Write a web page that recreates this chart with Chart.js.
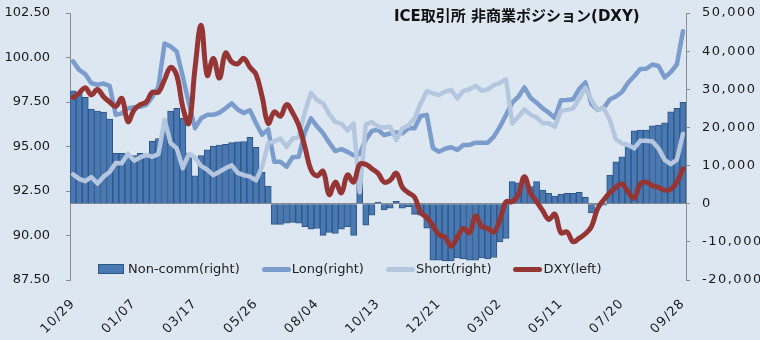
<!DOCTYPE html>
<html>
<head>
<meta charset="utf-8">
<script src="https://cdn.jsdelivr.net/npm/chart.js@4.4.0/dist/chart.umd.min.js"></script>
<style>
  html, body { margin: 0; padding: 0; background: #dde7f2; }
  #wrap { position: relative; width: 760px; height: 340px; }
  #title {
    position: absolute; left: 394px; top: 4px;
    font: bold 15px "DejaVu Sans", "Noto Sans CJK JP", sans-serif; color: #111;
  }
  #legend {
    position: absolute; left: 98px; top: 261px; display: flex; gap: 22px;
    font: 13px "DejaVu Sans", sans-serif; color: #222; line-height: 16px;
  }
  .item { display: flex; align-items: center; }
  .box { width: 24px; height: 8px; border: 1px solid #2e5683; margin-right: 4px; }
  .ln { width: 29px; height: 5px; border-radius: 3px; margin-right: 1px; }
</style>
</head>
<body>
<div id="wrap">
  <canvas id="cotChart" width="760" height="340"></canvas>
  <div id="title">ICE取引所 非商業ポジション(DXY)</div>
  <div id="legend"></div>
</div>
<script>
// weekly COT dates, 10/29/2019 .. 09/28/2021
const weeks = [
  "10/29","11/05","11/12","11/19","11/26","12/03","12/10","12/17","12/24","12/31",
  "01/07","01/14","01/21","01/28","02/04","02/11","02/18","02/25","03/03","03/10",
  "03/17","03/24","03/31","04/07","04/14","04/21","04/28","05/05","05/12","05/19",
  "05/26","06/02","06/09","06/16","06/23","06/30","07/07","07/14","07/21","07/28",
  "08/04","08/11","08/18","08/25","09/01","09/08","09/15","09/22","09/29","10/06",
  "10/13","10/20","10/27","11/03","11/10","11/17","11/24","12/01","12/08","12/15",
  "12/21","12/29","01/05","01/12","01/19","01/26","02/02","02/09","02/16","02/23",
  "03/02","03/09","03/16","03/23","03/30","04/06","04/13","04/20","04/27","05/04",
  "05/11","05/18","05/25","06/01","06/08","06/15","06/22","06/29","07/06","07/13",
  "07/20","07/27","08/03","08/10","08/17","08/24","08/31","09/07","09/14","09/21",
  "09/28"
];

const nonComm = [
  29600, 28900, 27900, 24800, 24300, 24000, 22200, 13200, 13200, 12800,
  12600, 13200, 12900, 16400, 17100, 19500, 24300, 25000, 22400, 13200,
  7300, 12600, 14100, 15100, 15400, 15600, 16000, 16200, 16300, 17400,
  14800, 8200, 4600, -5400, -5400, -5100, -4900, -5100, -6000, -6700,
  -6500, -8300, -7500, -7800, -6700, -6000, -8300, 10000, -5600, -3000,
  400, -1600, -1200, 600, -1200, -800, -2800, -3000, -6400, -14800,
  -14800, -15000, -15000, -14200, -14500, -14800, -14800, -14200, -14500, -14100,
  -10000, -9100, 5800, 5500, 5800, 4500, 5800, 3600, 2700, 2000,
  2500, 2700, 2700, 3000, 1700, -2400, -300, -400, 7500, 11000,
  12300, 15400, 19100, 19300, 19300, 20400, 20600, 21200, 24100, 25000,
  26600
];

const longPos = [
  37300, 35100, 34000, 31600, 31200, 31500, 30900, 23300, 23700, 25000,
  25300, 25400, 25900, 28000, 30700, 42000, 41200, 39900, 33300, 26300,
  19800, 22400, 23300, 23300, 23900, 25000, 26300, 24700, 23800, 24500,
  21100, 18100, 19500, 11000, 11000, 9700, 12200, 12300, 18700, 22400,
  20300, 18450, 16000, 13800, 14300, 13600, 12700, 13000, 16800, 19100,
  19400, 18000, 18400, 18700, 18500, 19800, 19800, 23000, 23300, 14600,
  13600, 14400, 14800, 14100, 15400, 15400, 16000, 16000, 16000, 17600,
  20200, 23300, 26500, 28000, 30500, 27800, 26500, 25000, 23900, 22450,
  27100, 27200, 27400, 30100, 31800, 26100, 24600, 25100, 27300, 28100,
  29300, 31700, 33400, 35300, 35400, 36500, 36100, 33100, 34500, 36500,
  45200
];

const shortPos = [
  7700, 6500, 5900, 7000, 5300, 7100, 8300, 10700, 10600, 13100,
  11300, 12100, 12800, 12300, 13000, 22000, 15900, 14500, 9300, 13100,
  12100, 9900, 8900, 7500, 8400, 9300, 10100, 8100, 7500, 7100,
  6100, 9700, 15900, 16300, 17100, 14900, 17100, 17500, 24000, 29000,
  27200, 26300, 23500, 21400, 21000, 19200, 21000, 3000, 20800, 21400,
  20200, 20000, 20200, 16700, 19800, 20500, 22400, 26300, 29500, 28900,
  28500, 29400, 29800, 27600, 29600, 30000, 30900, 29600, 30000, 31100,
  31700, 32600, 21100, 22800, 24700, 23400, 22600, 21100, 21100, 20200,
  24400, 24600, 25000, 27500, 30400, 27200, 24600, 25000, 22000, 16900,
  15800, 15400, 14500, 16500, 16500, 16300, 14500, 11500, 10400, 11500,
  18300
];

const dxy = [
  97.75, 98.0, 98.3, 97.9, 98.2, 97.8, 97.5, 97.25, 97.7, 96.4,
  97.05, 97.35, 97.5, 98.05, 98.05, 98.75, 99.45, 99.0, 97.2, 96.3,
  99.4, 101.8, 99.0, 99.95, 98.85, 100.25, 99.75, 99.65, 99.95, 99.45,
  99.05, 97.8, 96.3, 96.95, 96.7, 97.35, 96.9, 96.2, 95.0, 93.7,
  93.35, 93.6, 92.3, 93.0, 92.4, 93.4, 93.0, 94.0, 94.0, 93.75,
  93.5, 93.0, 93.1, 93.5, 92.7, 92.4, 92.15, 91.3, 91.0, 90.55,
  90.05, 89.9, 89.4, 89.9, 90.4, 90.15, 91.1, 90.5, 90.4, 90.2,
  90.9, 91.9, 91.9, 92.3, 93.3, 92.4, 91.9, 91.4, 90.9, 91.2,
  90.15, 90.2, 89.65, 89.85, 90.1, 90.5, 91.5, 92.0, 92.4, 92.7,
  92.9, 92.45, 92.1, 92.9, 93.0, 92.8, 92.7, 92.55, 92.6, 93.0,
  93.75
];

const leftTicks = [87.5, 90, 92.5, 95, 97.5, 100, 102.5];
const rightTicks = [-20000, -10000, 0, 10000, 20000, 30000, 40000, 50000];
const labelStep = 10; // a date label every 10 weeks

const axisGray = "#8c8c8c";
const tickFont = { family: "'DejaVu Sans', sans-serif", size: 13 };

// wider letter spacing on some axis labels, like the original
const spacedLabels = {
  id: "spacedLabels",
  afterLayout(chart) {
    const spacing = { x: "1px", y1: "1.5px" };
    Object.keys(spacing).forEach(id => {
      const s = chart.scales[id];
      if (s && !s._spaced && typeof s.drawLabels === "function") {
        const draw = s.drawLabels.bind(s);
        s.drawLabels = area => {
          chart.ctx.save();
          chart.ctx.letterSpacing = spacing[id];
          draw(area);
          chart.ctx.restore();
        };
        s._spaced = true;
      }
    });
  }
};

// fixed axis sizes, no extra label padding above/below the plot
const fixWidth = w => s => {
  s.width = w;
  s.paddingTop = 0;
  s.paddingBottom = 0;
};

const datasets = [
  {
    type: "line", label: "DXY(left)", data: dxy, yAxisID: "y",
    borderColor: "#963634", borderWidth: 5, tension: 0.4,
    pointRadius: 0, borderCapStyle: "round", borderJoinStyle: "round", order: 0
  },
  {
    type: "line", label: "Short(right)", data: shortPos, yAxisID: "y1",
    borderColor: "#b5c7df", borderWidth: 4.5, tension: 0,
    pointRadius: 0, borderCapStyle: "round", borderJoinStyle: "round", order: 1
  },
  {
    type: "line", label: "Long(right)", data: longPos, yAxisID: "y1",
    borderColor: "#7b9ccd", borderWidth: 4.5, tension: 0,
    pointRadius: 0, borderCapStyle: "round", borderJoinStyle: "round", order: 2
  },
  {
    type: "bar", label: "Non-comm(right)", data: nonComm, yAxisID: "y1",
    backgroundColor: "#4a78b2", borderColor: "#2e5683", borderWidth: 1,
    categoryPercentage: 1, barPercentage: 1, order: 3
  }
];

new Chart(document.getElementById("cotChart"), {
  data: { labels: weeks, datasets: datasets },
  plugins: [spacedLabels],
  options: {
    responsive: false,
    animation: false,
    layout: { padding: { top: 13, left: 0, right: 0, bottom: 0 } },
    plugins: { legend: { display: false }, tooltip: { enabled: false } },
    scales: {
      x: {
        offset: true,
        grid: { display: false },
        border: { display: false },
        afterFit: s => { s.height = 60; },
        ticks: {
          autoSkip: false, minRotation: 45, maxRotation: 45, padding: 8,
          color: "#1a1a1a", font: tickFont,
          callback: (v, i) => (i % labelStep === 0 ? weeks[i] : null)
        }
      },
      y: {
        position: "left",
        min: 87.5, max: 102.5,
        afterFit: fixWidth(70),
        afterBuildTicks: s => { s.ticks = leftTicks.map(v => ({ value: v })); },
        grid: { drawOnChartArea: false, tickLength: 4, tickColor: axisGray },
        border: { color: axisGray },
        ticks: {
          padding: 16, color: "#1a1a1a", font: tickFont,
          callback: v => v.toFixed(2)
        }
      },
      y1: {
        position: "right",
        min: -20000, max: 50000,
        afterFit: fixWidth(74),
        afterBuildTicks: s => { s.ticks = rightTicks.map(v => ({ value: v })); },
        grid: {
          drawOnChartArea: true, tickLength: 4, tickColor: axisGray,
          color: c => (c.tick && c.tick.value === 0 ? axisGray : "rgba(0,0,0,0)")
        },
        border: { color: axisGray },
        ticks: {
          padding: 12, color: "#1a1a1a", font: tickFont,
          callback: v => v.toLocaleString("en-US")
        }
      }
    }
  }
});

// legend drawn in the plot like the original, from the dataset settings
const legendOrder = ["Non-comm(right)", "Long(right)", "Short(right)", "DXY(left)"];
const legendEl = document.getElementById("legend");
legendOrder.forEach(name => {
  const ds = datasets.find(d => d.label === name);
  const item = document.createElement("div");
  item.className = "item";
  const mark = document.createElement("span");
  if (ds.type === "bar") {
    mark.className = "box";
    mark.style.background = ds.backgroundColor;
  } else {
    mark.className = "ln";
    mark.style.background = ds.borderColor;
  }
  const txt = document.createElement("span");
  txt.textContent = name;
  item.appendChild(mark);
  item.appendChild(txt);
  legendEl.appendChild(item);
});
</script>
</body>
</html>
